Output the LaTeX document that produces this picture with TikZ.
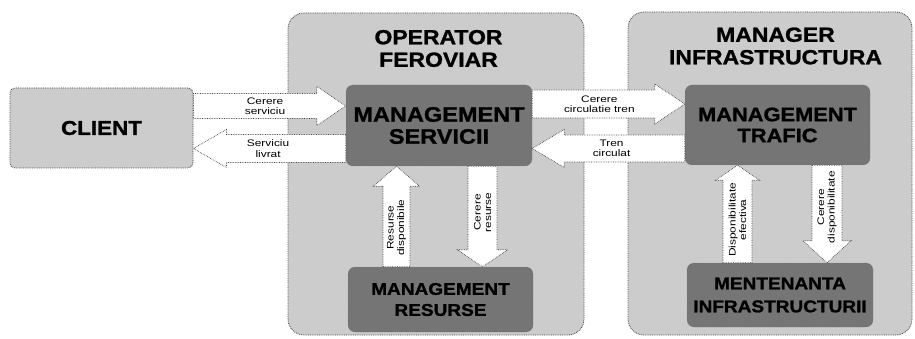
\documentclass[tikz,border=0pt]{standalone}
\usepackage{fontspec}
\setmainfont{Liberation Sans}
\newfontfamily\widef[FakeStretch=1.12,BoldFeatures={FakeBold=1.2,FakeStretch=1.12}]{Liberation Sans}
\newfontfamily\lblf[FakeStretch=1.25]{Liberation Sans}
\usetikzlibrary{calc}
\definecolor{lightfill}{gray}{0.80}
\definecolor{darkfill}{gray}{0.46}
\definecolor{dotline}{gray}{0.25}
\tikzset{
  container/.style={draw=dotline, densely dotted, line width=0.8pt, fill=lightfill, rounded corners=16pt, inner sep=0pt},
  clientbox/.style={draw=dotline, densely dotted, line width=0.8pt, fill=lightfill, rounded corners=5pt, inner sep=0pt, minimum width=183pt, minimum height=80pt, font=\widef\bfseries\fontsize{20}{22}\selectfont},
  darkbox/.style={fill=darkfill, draw=black!60, densely dotted, rounded corners=7pt, inner sep=0pt, align=center},
  titletext/.style={align=center, inner sep=0pt, font=\widef\bfseries\fontsize{20.5}{22.5}\selectfont},
  blk/.style={fill=white, draw=dotline, densely dotted, line width=0.7pt},
  lbl/.style={align=center, inner sep=0pt, font=\lblf\fontsize{9.5}{10.5}\selectfont},
}
% #1 dir (1 right, -1 left), #2 from, #3 to, #4 shaft half, #5 head half, #6 head length
\newcommand\harrow[6]{%
  \path[blk] let \p1=(#2), \p2=(#3) in
   (\x1,{\y1+#4pt}) -- ({\x2-(#1)*#6pt},{\y1+#4pt}) -- ({\x2-(#1)*#6pt},{\y1+#5pt})
   -- (\x2,\y1) -- ({\x2-(#1)*#6pt},{\y1-#5pt}) -- ({\x2-(#1)*#6pt},{\y1-#4pt})
   -- (\x1,{\y1-#4pt}) -- cycle;}
% #1 dir (1 up, -1 down)
\newcommand\varrow[6]{%
  \path[blk] let \p1=(#2), \p2=(#3) in
   ({\x1-#4pt},\y1) -- ({\x1-#4pt},{\y2-(#1)*#6pt}) -- ({\x1-#5pt},{\y2-(#1)*#6pt})
   -- (\x1,\y2) -- ({\x1+#5pt},{\y2-(#1)*#6pt}) -- ({\x1+#4pt},{\y2-(#1)*#6pt})
   -- ({\x1+#4pt},\y1) -- cycle;}
\begin{document}
\begin{tikzpicture}[x=1pt,y=-1pt]
\useasboundingbox (0,0) rectangle (915,339);
\fill[white] (0,0) rectangle (915,339);

% containers
\node[container, minimum width=296pt, minimum height=322pt] (of) at (436,174) {};
\node[container, minimum width=284pt, minimum height=323pt] (mi) at (770,173.5) {};
\node[titletext] (oft) at (438.5,48.5) {OPERATOR\\FEROVIAR};
\node[titletext] (mit) at (775.5,46) {MANAGER\\INFRASTRUCTURA};

% client
\node[clientbox] (client) at (101.5,128) {CLIENT};

% dark boxes
\node[darkbox, minimum width=186pt, minimum height=81pt, font=\widef\bfseries\fontsize{21}{22}\selectfont] (ms) at (439,125.5) {MANAGEMENT\\SERVICII};
\node[darkbox, minimum width=185pt, minimum height=80pt, font=\widef\bfseries\fontsize{19.5}{21}\selectfont] (mt) at (777.5,125) {MANAGEMENT\\TRAFIC};
\node[darkbox, minimum width=185pt, minimum height=65pt, font=\widef\bfseries\fontsize{17}{21}\selectfont] (mr) at (440.5,299.5) {MANAGEMENT\\RESURSE};
\node[darkbox, minimum width=186pt, minimum height=64pt, font=\widef\bfseries\fontsize{17}{23}\selectfont] (minf) at (780,295) {MENTENANTA\\INFRASTRUCTURII};

% arrow end points
\coordinate (a1s) at ($(client.east)+(0,-22)$);
\coordinate (a1e) at (ms.west |- a1s);
\coordinate (a2s) at ($(ms.west)+(0,23)$);
\coordinate (a2e) at (client.east |- a2s);
\coordinate (a3s) at ($(ms.east)+(0,-21.5)$);
\coordinate (a3e) at (mt.west |- a3s);
\coordinate (a4s) at ($(mt.west)+(0,23.5)$);
\coordinate (a4e) at (ms.east |- a4s);
\coordinate (a5s) at ($(mr.north)+(-44,0)$);
\coordinate (a5e) at (a5s |- ms.south);
\coordinate (a6s) at ($(ms.south)+(43.5,0)$);
\coordinate (a6e) at (a6s |- mr.north);
\coordinate (a7s) at ($(minf.north)+(-42.5,0)$);
\coordinate (a7e) at (a7s |- mt.south);
\coordinate (a8s) at ($(mt.south)+(49.5,0)$);
\coordinate (a8e) at (a8s |- minf.north);

% block arrows
\harrow{1}{a1s}{a1e}{12.5}{19.5}{29}
\harrow{-1}{a2s}{a2e}{14}{19}{33}
\harrow{1}{a3s}{a3e}{14}{20}{30}
\harrow{-1}{a4s}{a4e}{13.5}{19}{32}
\varrow{1}{a5s}{a5e}{13.5}{23}{20}
\varrow{-1}{a6s}{a6e}{14.5}{25}{17}
\varrow{1}{a7s}{a7e}{14.5}{22}{15}
\varrow{-1}{a8s}{a8e}{15}{24}{22}

% labels
\node[lbl] (l1) at ($(a1s)!0.47!(a1e)$) {Cerere\\serviciu};
\node[lbl] (l2) at ($(a2s)!0.51!(a2e)$) {Serviciu\\livrat};
\node[lbl] (l3) at ($(a3s)!0.44!(a3e)$) {Cerere\\circulatie tren};
\node[lbl] (l4) at ($(a4s)!0.48!(a4e)$) {Tren\\circulat};
\node[lbl, rotate=90] (l5) at ($(a5s)!0.39!(a5e)$) {Resurse\\disponibile};
\node[lbl, rotate=90] (l6) at ($(a6s)!0.46!(a6e)$) {Cerere\\resurse};
\node[lbl, rotate=90] (l7) at ($(a7s)!0.44!(a7e)$) {Disponibilitate\\efectiva};
\node[lbl, rotate=90] (l8) at ($(a8s)!0.43!(a8e)$) {Cerere\\disponibilitate};
\end{tikzpicture}
\end{document}
